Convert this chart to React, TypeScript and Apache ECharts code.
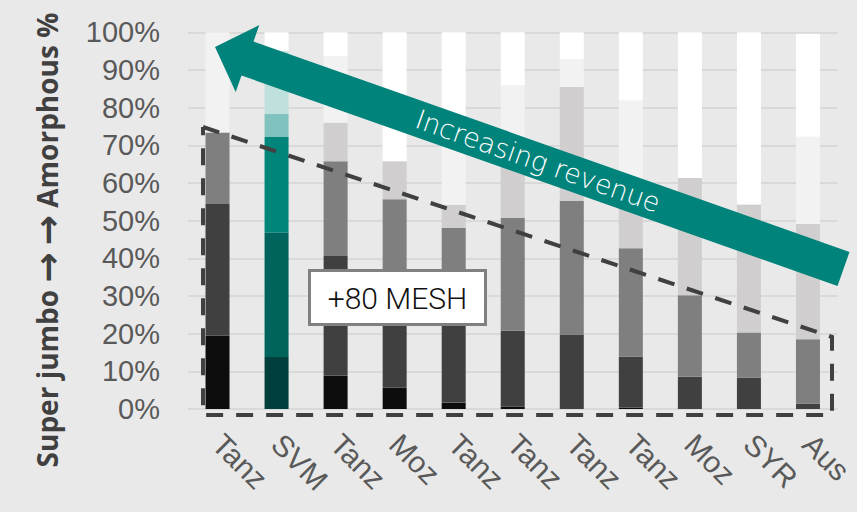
import React, { useEffect, useRef } from "react";
import * as echarts from "echarts";

const categories = ["Tanz", "SVM", "Tanz", "Moz", "Tanz", "Tanz", "Tanz", "Tanz", "Moz", "SYR", "Aus"];
const superJumbo = [19.5, 13.8, 8.8, 5.7, 1.7, 0.6, 0, 0.3, 0, 0, 0];
const jumbo = [34.9, 33.0, 31.8, 25.3, 28.3, 20.2, 19.8, 13.6, 8.6, 8.3, 1.4];
const large = [19.0, 25.4, 25.2, 24.7, 18.1, 30.0, 35.4, 28.8, 21.6, 12.0, 17.1];
const medium = [0, 6.1, 10.2, 10.1, 6.1, 17.2, 30.3, 14.3, 31.1, 34.0, 30.6];
const small = [26.6, 16.7, 17.7, 0, 21.8, 18.0, 7.4, 24.9, 0, 0, 23.2];
const amorphous = [0, 5.0, 6.3, 34.2, 24.0, 14.0, 7.1, 18.1, 38.7, 45.7, 27.3];
const yTicks = [0, 10, 20, 30, 40, 50, 60, 70, 80, 90, 100];

const seriesNames = ["Super jumbo", "Jumbo", "Large", "Medium", "Small", "Amorphous"];
const seriesData = [superJumbo, jumbo, large, medium, small, amorphous];
const grayColors = ["#0d0d0d", "#404040", "#7f7f7f", "#d0cece", "#f2f2f2", "#ffffff"];
const tealColors = ["#003f3b", "#00635c", "#00857a", "#80c2bd", "#bfe1de", "#ffffff"];
const highlightIndex = 1;

export default function App() {
  const ref = useRef<HTMLDivElement>(null);
  useEffect(() => {
    if (!ref.current) return;
    const chart = echarts.init(ref.current, undefined, { renderer: "svg" });
    const series = seriesData.map((arr, si) => ({
      name: seriesNames[si],
      type: "bar",
      stack: "total",
      barWidth: 24,
      itemStyle: { color: grayColors[si] },
      data: arr.map((v, i) =>
        i === highlightIndex ? { value: v, itemStyle: { color: tealColors[si] } } : v
      ),
    }));
    chart.setOption({
      animation: false,
      backgroundColor: "#e9e9e9",
      grid: { left: 188, right: 14, top: 32.3, bottom: 103, containLabel: false },
      xAxis: {
        type: "category",
        data: categories,
        axisLine: { show: false },
        axisTick: { show: false },
        axisLabel: {
          rotate: -45,
          margin: 30,
          fontSize: 30,
          color: "#595959",
          fontFamily: "Liberation Sans",
          interval: 0,
        },
      },
      yAxis: {
        type: "value",
        min: yTicks[0],
        max: yTicks[yTicks.length - 1],
        interval: 10,
        axisLine: { show: false },
        axisTick: { show: false },
        splitLine: { lineStyle: { color: "#d9d9d9", width: 2 } },
        axisLabel: {
          formatter: "{value}%",
          margin: 28,
          fontSize: 29,
          color: "#595959",
          fontFamily: "Liberation Sans",
        },
      },
      series,
      graphic: [
        {
          type: "text",
          x: 47,
          y: 240,
          rotation: Math.PI / 2,
          z: 100,
          style: {
            text: "Super jumbo {a|→} {a|→} Amorphous %",
            fontFamily: "Open Sans",
            fontWeight: "bold",
            fontSize: 28,
            fill: "#404040",
            textAlign: "center",
            textVerticalAlign: "middle",
            rich: {
              a: {
                fontFamily: "DejaVu Sans",
                fontWeight: "bold",
                fontSize: 36,
                fill: "#404040",
                verticalAlign: "middle",
              },
            },
          },
        },
        {
          type: "polyline",
          z: 100,
          shape: {
            points: [
              [203, 127],
              [832, 337],
              [832, 415],
              [203, 415],
              [203, 127],
            ],
          },
          style: { stroke: "#404040", lineWidth: 4, lineDash: [17, 13], fill: null },
        },
        {
          type: "polygon",
          z: 101,
          shape: {
            points: [
              [849.5, 252],
              [253.5, 41.5],
              [259.3, 25.1],
              [215, 47],
              [235.7, 91.9],
              [241.5, 75.5],
              [837.5, 286],
            ],
          },
          style: { fill: "#00837a" },
        },
        {
          type: "text",
          x: 538,
          y: 161,
          rotation: -0.3395,
          z: 102,
          style: {
            text: "Increasing revenue",
            fontFamily: "DejaVu Sans",
            fontWeight: 300,
            fontSize: 27,
            fill: "#ffffff",
            textAlign: "center",
            textVerticalAlign: "middle",
          },
        },
        {
          type: "rect",
          z: 103,
          shape: { x: 309.5, y: 270.5, width: 176, height: 54 },
          style: { fill: "#ffffff", stroke: "#808080", lineWidth: 3 },
        },
        {
          type: "text",
          x: 397.5,
          y: 298,
          z: 104,
          style: {
            text: "+80 MESH",
            fontFamily: "Roboto",
            fontWeight: 300,
            fontSize: 30,
            fill: "#111111",
            textAlign: "center",
            textVerticalAlign: "middle",
          },
        },
      ],
    });
    return () => chart.dispose();
  }, []);
  return (
    <div
      ref={ref}
      style={{ position: "absolute", left: 0, top: 0, width: 857, height: 512 }}
    />
  );
}
